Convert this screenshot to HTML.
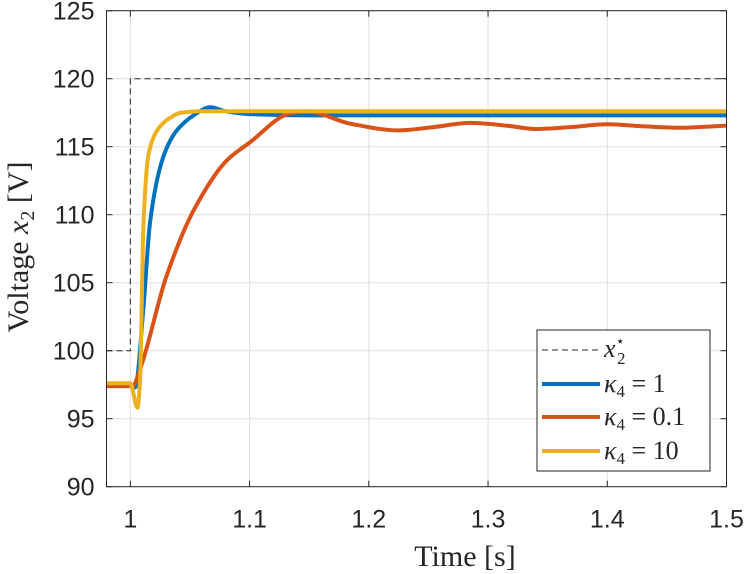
<!DOCTYPE html>
<html><head><meta charset="utf-8"><style>
body{margin:0;background:#fff;}
svg{display:block;}
text{font-family:"Liberation Sans",sans-serif;}
.tk{font-size:25px;fill:#262626;}
.lx{font-family:"Liberation Serif",serif;fill:#262626;}
</style></head><body>
<svg id="chart" width="747" height="574">
<g id="grid"></g>
<g id="series"></g>
<g id="axes"></g>
<text class="lx" x="465" y="566" font-size="30" text-anchor="middle">Time [s]</text>
<text class="lx" transform="translate(28,247) rotate(-90)" font-size="30" text-anchor="middle">Voltage <tspan font-style="italic">x</tspan><tspan font-size="20" dy="6">2</tspan><tspan dy="-6"> [V]</tspan></text>
<g>
<rect x="537" y="330" width="173" height="141" fill="#fff" stroke="#262626" stroke-width="1"/>
<line x1="542" y1="350" x2="600" y2="350" stroke="#262626" stroke-width="1" stroke-dasharray="6,4"/>
<text class="lx" x="604" y="357" font-size="26" font-style="italic">x<tspan font-size="15" dy="-11" font-style="normal">⋆</tspan><tspan font-size="17" dx="-8" dy="18" font-style="normal">2</tspan></text>
<line x1="542" y1="384" x2="600" y2="384" stroke="#0072BD" stroke-width="4"/>
<text class="lx" x="604" y="392" font-size="26"><tspan font-style="italic">κ</tspan><tspan font-size="17" dy="5">4</tspan><tspan dy="-5"> = 1</tspan></text>
<line x1="542" y1="417" x2="600" y2="417" stroke="#D95319" stroke-width="4"/>
<text class="lx" x="604" y="425" font-size="26"><tspan font-style="italic">κ</tspan><tspan font-size="17" dy="5">4</tspan><tspan dy="-5"> = 0.1</tspan></text>
<line x1="542" y1="451" x2="600" y2="451" stroke="#EDB120" stroke-width="4"/>
<text class="lx" x="604" y="459" font-size="26"><tspan font-style="italic">κ</tspan><tspan font-size="17" dy="5">4</tspan><tspan dy="-5"> = 10</tspan></text>
</g>
</svg>
<script>
const xTicks=[1,1.1,1.2,1.3,1.4,1.5];
const xTickLabels=["1","1.1","1.2","1.3","1.4","1.5"];
const yTicks=[90,95,100,105,110,115,120,125];
const refT=[0.98,1.0,1.0,1.5];
const refV=[100,100,120,120];
const blueT=[0.98,1.0,1.004,1.011,1.0165,1.025,1.032,1.039,1.053,1.067,1.08,1.1,1.15,1.5];
const blueV=[97.5,97.5,97.3,103.2,109.4,113.5,115.2,116.2,117.3,117.9,117.6,117.4,117.3,117.3];
const redT=[0.98,1.002,1.008,1.03,1.053,1.081,1.1,1.134,1.148,1.184,1.225,1.255,1.285,1.315,1.34,1.37,1.4,1.43,1.46,1.5];
const redV=[97.4,97.4,98.6,105.4,110.3,114.0,115.3,117.45,117.6,116.7,116.2,116.45,116.75,116.55,116.3,116.45,116.65,116.5,116.4,116.55];
const yelT=[0.98,1.0,1.006,1.008,1.011,1.015,1.02,1.025,1.033,1.042,1.06,1.5];
const yelV=[97.6,97.6,95.8,97.6,109.4,114.3,115.8,116.5,117.1,117.5,117.6,117.6];
const X0=106.5,X1=726.5,Y0=486.7,Y1=10.7;
const sx=t=>X0+(t-0.98)/(1.5-0.98)*(X1-X0);
const sy=v=>Y0-(v-90)/(125-90)*(Y0-Y1);
const NS="http://www.w3.org/2000/svg";
function mk(tag,attrs,parent){const e=document.createElementNS(NS,tag);for(const k in attrs)e.setAttribute(k,attrs[k]);parent.appendChild(e);return e;}
const grid=document.getElementById('grid'),axes=document.getElementById('axes'),series=document.getElementById('series');
xTicks.forEach((t,i)=>{
 const g=mk('line',{x1:sx(t),x2:sx(t),y1:Y1,y2:Y0,stroke:'#dfdfdf','stroke-width':1},grid);
 
 
 mk('line',{x1:sx(t),x2:sx(t),y1:Y0,y2:Y0-6,stroke:'#262626'},axes);
 mk('line',{x1:sx(t),x2:sx(t),y1:Y1,y2:Y1+6,stroke:'#262626'},axes);
 const tx=mk('text',{x:sx(t),y:Y0+41,'text-anchor':'middle',class:'tk'},axes);
 tx.textContent=xTickLabels[i];
 
 
});
yTicks.forEach(v=>{
 const g=mk('line',{x1:X0,x2:X1,y1:sy(v),y2:sy(v),stroke:'#dfdfdf','stroke-width':1},grid);
 
 
 mk('line',{x1:X0,x2:X0+6,y1:sy(v),y2:sy(v),stroke:'#262626'},axes);
 mk('line',{x1:X1,x2:X1-6,y1:sy(v),y2:sy(v),stroke:'#262626'},axes);
 const tx=mk('text',{x:X0-12,y:sy(v)+9,'text-anchor':'end',class:'tk'},axes);
 tx.textContent=String(v);
 
 
});
const frame=mk('rect',{x:X0,y:Y1,width:X1-X0,height:Y0-Y1,fill:'none',stroke:'#262626','stroke-width':1},axes);


function path(T,V){return T.map((t,i)=>(i?'L':'M')+sx(t).toFixed(1)+','+sy(V[i]).toFixed(1)).join(' ');}
// monotone cubic (Fritsch-Carlson) in pixel space
function smooth(T,V){
 const x=T.map(sx),y=V.map(sy),n=x.length;
 const d=[],m=new Array(n);
 for(let i=0;i<n-1;i++)d.push((y[i+1]-y[i])/(x[i+1]-x[i]));
 m[0]=d[0];m[n-1]=d[n-2];
 for(let i=1;i<n-1;i++)m[i]=(d[i-1]*d[i]<=0)?0:(3*(d[i-1]+d[i]))/( (2*(x[i+1]-x[i])+(x[i]-x[i-1]))/(x[i+1]-x[i-1])*3*0+ (d[i-1]+d[i])/(d[i-1]*d[i]) *1.5 )/ 1;
 for(let i=1;i<n-1;i++){ if(d[i-1]*d[i]<=0){m[i]=0;} else {const w1=2*(x[i+1]-x[i])+(x[i]-x[i-1]),w2=(x[i+1]-x[i])+2*(x[i]-x[i-1]);m[i]=(w1+w2)/(w1/d[i-1]+w2/d[i]);} }
 let s='M'+x[0].toFixed(1)+','+y[0].toFixed(1);
 for(let i=0;i<n-1;i++){
  const h=(x[i+1]-x[i])/3;
  s+=' C'+(x[i]+h).toFixed(1)+','+(y[i]+m[i]*h).toFixed(1)+' '+(x[i+1]-h).toFixed(1)+','+(y[i+1]-m[i+1]*h).toFixed(1)+' '+x[i+1].toFixed(1)+','+y[i+1].toFixed(1);
 }
 return s;
}
const r=mk('path',{d:path(refT,refV),fill:'none',stroke:'#262626','stroke-width':1,'stroke-dasharray':'6,4'},series);


const b=mk('path',{d:smooth(blueT,blueV),fill:'none',stroke:'#0072BD','stroke-width':4,'stroke-linejoin':'round'},series);


const rd=mk('path',{d:smooth(redT,redV),fill:'none',stroke:'#D95319','stroke-width':4,'stroke-linejoin':'round'},series);


const y=mk('path',{d:smooth(yelT,yelV),fill:'none',stroke:'#EDB120','stroke-width':4,'stroke-linejoin':'round'},series);


</script>
</body></html>
